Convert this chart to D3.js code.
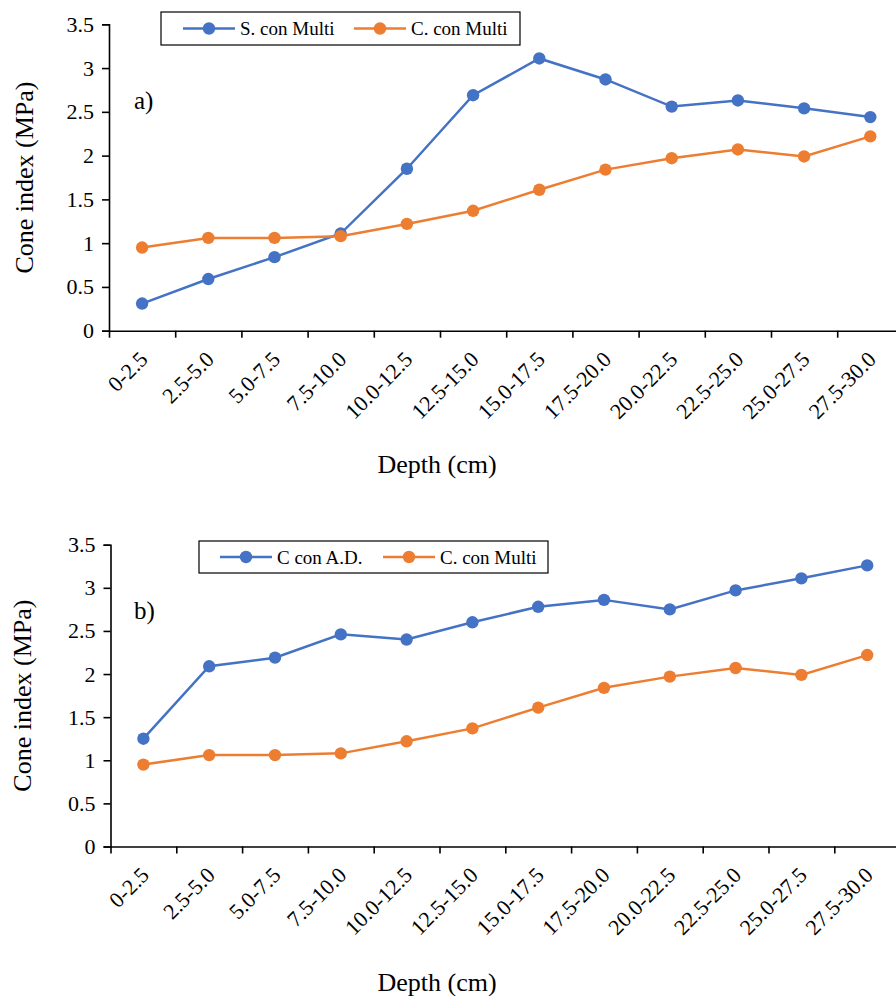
<!DOCTYPE html>
<html><head><meta charset="utf-8">
<script src="https://cdn.jsdelivr.net/npm/d3@7/dist/d3.min.js"></script>
<style>
html,body{margin:0;padding:0;background:#fff;}
svg text{font-family:"Liberation Serif","Times New Roman",serif;fill:#000;}
</style></head>
<body>
<svg id="chart" width="896" height="996"></svg>
<script>
const depths = ["0-2.5","2.5-5.0","5.0-7.5","7.5-10.0","10.0-12.5","12.5-15.0","15.0-17.5","17.5-20.0","20.0-22.5","22.5-25.0","25.0-27.5","27.5-30.0"];
const sConMulti = [0.31,0.59,0.84,1.11,1.85,2.69,3.11,2.87,2.56,2.63,2.54,2.44];
const cConMulti = [0.95,1.06,1.06,1.08,1.22,1.37,1.61,1.84,1.97,2.07,1.99,2.22];
const cConAD   = [1.25,2.09,2.19,2.46,2.40,2.60,2.78,2.86,2.75,2.97,3.11,3.26];
const yTicks = [0,0.5,1,1.5,2,2.5,3,3.5];
const seriesNamesA = ["S. con Multi","C. con Multi"];
const seriesNamesB = ["C con A.D.","C. con Multi"];
const colors = ["#4472C4","#ED7D31"];

const svg = d3.select("#chart");

function panel(cfg){
  const g = svg.append("g");
  const x = d3.scaleBand().domain(depths).range([cfg.x0, cfg.x0 + cfg.step*depths.length]).padding(0);
  const xt = d3.scaleLinear().domain([0, depths.length]).range([cfg.x0, cfg.x0 + cfg.step*depths.length]);
  const y = d3.scaleLinear().domain([0,3.5]).range([cfg.yBottom, cfg.yTop]);
  const cx = d => x(d) + x.bandwidth()/2;

  // y axis
  const ya = g.append("g").attr("transform",`translate(${cfg.x0},0)`)
    .call(d3.axisLeft(y).tickValues(yTicks).tickSize(7).tickPadding(8).tickFormat(d3.format("")));
  ya.select(".domain").attr("stroke","#000").attr("stroke-width",1.6);
  ya.selectAll(".tick line").attr("stroke","#000").attr("stroke-width",1.6);
  ya.selectAll(".tick text").attr("font-size",22).attr("font-family","Liberation Serif").attr("fill","#000");

  // x axis
  const xa = g.append("g").attr("transform",`translate(0,${cfg.yBottom})`)
    .call(d3.axisBottom(xt).tickValues(d3.range(depths.length+1)).tickSize(7).tickSizeOuter(0).tickFormat(""));
  xa.select(".domain").attr("stroke","#000").attr("stroke-width",1.6);
  xa.selectAll(".tick line").attr("stroke","#000").attr("stroke-width",1.6);

  // x labels
  g.selectAll(".xl").data(depths).enter().append("text")
    .attr("class","xl")
    .attr("transform", d => `translate(${cx(d)+7},${cfg.yBottom+30}) rotate(-45)`)
    .attr("text-anchor","end")
    .attr("font-size",22)
    .text(d => d);

  // series
  const line = d3.line().x((v,i)=>cx(depths[i])).y(v=>y(v));
  cfg.series.forEach((s,k)=>{
    g.append("path").datum(s).attr("d",line).attr("fill","none")
      .attr("stroke",colors[k]).attr("stroke-width",2.5);
    g.selectAll(".pt"+k).data(s).enter().append("circle")
      .attr("cx",(v,i)=>cx(depths[i])).attr("cy",v=>y(v)).attr("r",6.2)
      .attr("fill",colors[k]);
  });

  // axis titles
  g.append("text").attr("transform",`translate(${cfg.ytx},${(cfg.yTop+cfg.yBottom)/2}) rotate(-90)`)
    .attr("text-anchor","middle").attr("font-size",26).text("Cone index (MPa)");
  g.append("text").attr("x",437).attr("y",cfg.xty).attr("text-anchor","middle")
    .attr("font-size",26).text("Depth (cm)");

  // panel label
  g.append("text").attr("x",134).attr("y",cfg.labelY).attr("font-size",25).text(cfg.label);

  // legend
  const L = cfg.legend;
  g.append("rect").attr("x",L.x).attr("y",L.y).attr("width",L.w).attr("height",L.h)
    .attr("fill","#fff").attr("stroke","#000").attr("stroke-width",1.2);
  L.items.forEach((it,k)=>{
    const ly = L.y + L.h/2;
    g.append("line").attr("x1",it.lx).attr("x2",it.lx+52).attr("y1",ly).attr("y2",ly)
      .attr("stroke",colors[k]).attr("stroke-width",2.5);
    g.append("circle").attr("cx",it.lx+26).attr("cy",ly).attr("r",6.2).attr("fill",colors[k]);
    g.append("text").attr("x",it.lx+57).attr("y",ly+6.5).attr("font-size",19).text(cfg.names[k]);
  });
}

panel({x0:109, step:66.2, yTop:24.3, yBottom:330.7, series:[sConMulti,cConMulti], names:seriesNamesA,
  ytx:33, xty:473, label:"a)", labelY:109,
  legend:{x:161,y:12,w:359,h:33, items:[{lx:183},{lx:354}]}});
panel({x0:110.5, step:65.8, yTop:544.7, yBottom:846.5, series:[cConAD,cConMulti], names:seriesNamesB,
  ytx:31, xty:991, label:"b)", labelY:619,
  legend:{x:199,y:541,w:349,h:32, items:[{lx:220},{lx:383}]}});
</script>
</body></html>
